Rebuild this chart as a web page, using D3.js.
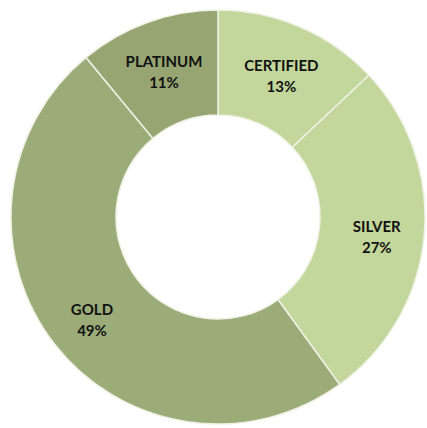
<!DOCTYPE html>
<html>
<head>
<meta charset="utf-8">
<script src="https://cdn.jsdelivr.net/npm/d3@7"></script>
<style>
  html, body { margin: 0; padding: 0; background: #ffffff; }
  svg { display: block; }
</style>
</head>
<body>
<svg id="chart" width="427" height="428"></svg>
<script>
// Membership tiers and their shares (%)
const categories = ["CERTIFIED", "SILVER", "GOLD", "PLATINUM"];
const shares = [13, 27, 49, 11];
const colors = ["#c3d69b", "#c3d69b", "#9cac78", "#96a572"];

const width = 427, height = 428;
const cx = 218, cy = 217;
const outerR = 207, innerR = 102;

const svg = d3.select("#chart");
const g = svg.append("g").attr("transform", `translate(${cx},${cy})`);

const data = categories.map((c, i) => ({ name: c, value: shares[i], color: colors[i] }));

const pie = d3.pie().value(d => d.value).sort(null);
const arc = d3.arc().innerRadius(innerR).outerRadius(outerR);
const labelArc = d3.arc().innerRadius(innerR + 5).outerRadius(outerR + 5);

const arcs = pie(data);

// soft ring around the hole
g.append("circle")
  .attr("r", innerR + 1)
  .attr("fill", "none")
  .attr("stroke", "#d8dccf")
  .attr("stroke-width", 2);

g.selectAll("path.slice")
  .data(arcs)
  .join("path")
  .attr("class", "slice")
  .attr("d", arc)
  .attr("fill", d => d.data.color)
  .attr("stroke", "#eef2e4")
  .attr("stroke-width", 1.5);

const labels = g.selectAll("text.lbl")
  .data(arcs)
  .join("text")
  .attr("class", "lbl")
  .attr("transform", d => {
    const [x, y] = labelArc.centroid(d);
    return `translate(${x},${y + 3})`;
  })
  .attr("text-anchor", "middle")
  .attr("font-family", "Lato, 'Open Sans', sans-serif")
  .attr("font-weight", "bold")
  .attr("font-size", 15)
  .attr("fill", "#111111");

labels.append("tspan")
  .attr("x", 0)
  .attr("dy", "-0.2em")
  .text(d => d.data.name);

labels.append("tspan")
  .attr("x", 0)
  .attr("dy", "1.42em")
  .text(d => d.data.value + "%");
</script>
</body>
</html>
